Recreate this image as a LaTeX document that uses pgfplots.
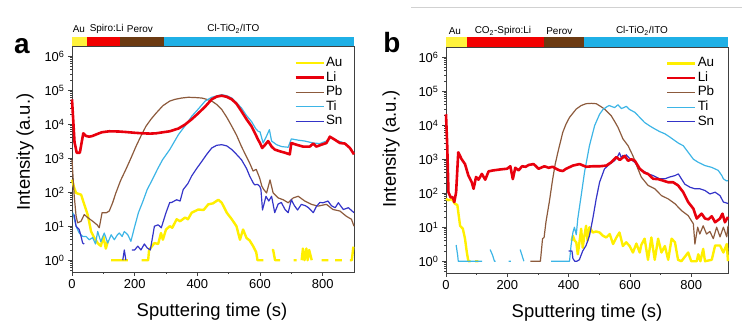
\documentclass[border=0pt]{standalone}
\usepackage{pgfplots}
\pgfplotsset{compat=1.18}
\usepackage{fontspec}
\setmainfont{Liberation Sans}
\definecolor{auc}{HTML}{FFEF00}
\definecolor{lic}{HTML}{E8000D}
\definecolor{pbc}{HTML}{8C5A3C}
\definecolor{tic}{HTML}{3DB5E6}
\definecolor{snc}{HTML}{3434C8}
\definecolor{barY}{HTML}{FFF23C}
\definecolor{barR}{HTML}{F20000}
\definecolor{barB}{HTML}{6B3A12}
\definecolor{barC}{HTML}{1FB0E6}
\tikzset{barlab/.style={font=\fontsize{10}{10}\selectfont, inner sep=0pt}}
\pgfplotsset{
  legend image code/.code={\draw[#1] (0bp,0bp) -- (28bp,0bp);},
}
\begin{document}
\begin{tikzpicture}
\path[use as bounding box] (0bp,0bp) rectangle (742bp,328bp);
\pgfplotsset{
  every axis/.append style={
  scale only axis, width=282bp, height=226bp,
  ymin=0.45, ymax=2e6, xmin=0,
  clip=false, unbounded coords=jump,
  axis line style={black!75, line width=0.8bp},
  tick style={black!75, line width=0.7bp},
  tick align=outside, xtick pos=left, ytick pos=left,
  major tick length=4bp, minor tick length=2bp,
  xtick={0,200,400,600,800}, xticklabels={0,200,400,600,800}, minor x tick num=1,
  ytick={1,10,100,1000,10000,100000,1000000},
  yticklabels={10\textsuperscript{0},10\textsuperscript{1},10\textsuperscript{2},10\textsuperscript{3},10\textsuperscript{4},10\textsuperscript{5},10\textsuperscript{6}},
  minor ytick={0.5,0.6,0.7,0.8,0.9,2,3,4,5,6,7,8,9,20,30,40,50,60,70,80,90,200,300,400,500,600,700,800,900,2000,3000,4000,5000,6000,7000,8000,9000,20000,30000,40000,50000,60000,70000,80000,90000,200000,300000,400000,500000,600000,700000,800000,900000},
  tick label style={font=\fontsize{13}{13}\selectfont},
  legend style={draw=none, fill=none, inner sep=0pt, font=\fontsize{13.5}{14}\selectfont, row sep=0.4bp, nodes={inner sep=1bp, text height=9.5bp, text depth=2.7bp}, anchor=north west},
  legend cell align=left,
  },
  every axis plot/.append style={line join=round},
}
% ---------------- panel a ----------------
\begin{semilogyaxis}[at={(72bp,56bp)}, anchor=south west, xmax=900,
  legend style={at={(0.788,0.957)}}]
\addlegendimage{auc, line width=2.6bp}\addlegendentry{Au}
\addlegendimage{lic, line width=2.6bp}\addlegendentry{Li}
\addlegendimage{pbc, line width=1.2bp}\addlegendentry{Pb}
\addlegendimage{tic, line width=1.2bp}\addlegendentry{Ti}
\addlegendimage{snc, line width=1.2bp}\addlegendentry{Sn}
% Au
\addplot[auc, line width=2.4bp, forget plot] coordinates {
(0,234)(7,135)(13,95)(20,90)(29,85)(39,44)(50,22)(61,7)(71,4.6)(82,3.2)(92,2.6)(100,5)(108,2.2)(115,3.8)
(120,nan)(125,1)(178,1)(200,nan)(222,1)(243,1)(246,2)(263,3.2)(275,3)(284,6.3)(290,4)(300,8)(312,10)(320,9)
(334,16)(345,14)(361,18)(370,16)(382,25)(403,31)(420,30)(435,44)(450,47)(467,60)(478,49)(494,25)(510,16)
(525,10)(536,4)(546,8)(557,4.5)(567,3.8)(578,2.6)(588,1.7)(592,1)(611,1)(620,nan)(638,2)(642,2)(648,1)(664,1)
(680,nan)(707,1)(717,1)(725,nan)(733,1)(737,2.2)(742,1)(748,2.2)(752,1)(757,2)(765,1)(780,nan)(797,1)(818,1)
(830,nan)(840,1)(861,1)(875,nan)(887,1)(893,1)(898,2.5)};
% Pb
\addplot[pbc, line width=1.2bp, forget plot] coordinates {
(0,900)(7,80)(13,20)(18,12.6)(29,14)(39,22)(50,18)(66,14)(80,11)(87,9)(96,25)(110,25)(119,28)(130,50)(140,95)
(155,220)(172,470)(188,1000)(204,2200)(220,4500)(236,8700)(252,14000)(268,21000)(290,35000)(312,48000)
(329,54000)(350,59000)(371,62000)(392,61000)(414,59000)(430,54000)(446,48000)(462,38000)(478,27000)
(494,16000)(510,8700)(525,4800)(541,2200)(557,1100)(567,720)(578,420)(588,470)(599,260)(606,150)(612,120)
(621,95)(632,230)(642,95)(658,68)(674,60)(690,49)(706,68)(722,76)(743,55)(764,44)(785,39)(812,44)(833,31)
(855,28)(876,19.5)(892,16)(900,10)};
% Ti
\addplot[tic, line width=1.2bp, forget plot] coordinates {
(3,25)(13,10)(23,6.3)(34,5)(45,5)(55,4)(66,4.6)(75,3)(82,7)(92,3.5)(103,6.3)(114,3.2)(125,5.6)(135,4)(145,5.6)
(151,6.3)(160,5)(167,7)(178,5.6)(188,3.6)(199,9)(212,25)(225,50)(240,120)(257,240)(273,480)(289,900)(312,1800)
(340,5000)(361,9000)(382,17000)(403,28000)(425,48000)(446,62000)(467,70000)(478,74000)(494,69000)(510,59000)
(525,43000)(541,30000)(557,18000)(573,12000)(586,7500)(594,6200)(600,6000)(610,2800)(621,4500)(630,6900)
(637,3200)(653,2500)(669,2200)(690,2100)(700,3700)(722,3400)(743,3200)(770,2800)(791,2700)(812,3200)
(828,4000)(845,3300)(860,3000)(876,2500)(900,1450)};
% Sn
\addplot[snc, line width=1.2bp, forget plot] coordinates {
(7,22)(13,10)(23,8)(29,5)(34,3.2)(39,3)(100,nan)(162,1)(167,2)(172,1)(180,nan)(191,2)(200,2)(210,2.6)(220,2)
(231,3)(240,2.3)(250,2)(263,10)(275,11)(285,9)(300,25)(312,50)(318,50)(334,60)(345,55)(355,120)(370,180)
(382,300)(398,500)(414,800)(430,1300)(446,2000)(462,2400)(478,2500)(494,2300)(510,1800)(525,1300)(541,900)
(557,500)(567,300)(578,190)(583,165)(592,170)(599,150)(603,120)(608,30)(619,76)(628,55)(637,76)(647,25)
(658,45)(668,50)(680,31)(690,25)(700,60)(710,40)(720,30)(732,44)(745,40)(755,35)(770,25)(780,38)(791,50)
(801,49)(817,55)(828,40)(840,35)(850,49)(866,31)(882,35)(900,25)};
% Li
\addplot[lic, line width=2.6bp, forget plot] coordinates {
(0,54000)(8,3000)(15,1450)(25,1450)(36,5400)(45,4500)(55,4300)(65,4500)(77,5000)(95,5800)(119,6200)(150,6100)
(172,5900)(200,5600)(225,5400)(250,5300)(268,5400)(290,5800)(312,6200)(340,7500)(361,9800)(382,14000)
(403,21000)(425,33000)(446,54000)(462,65000)(478,69000)(494,64000)(510,54000)(525,40000)(541,24000)
(557,14000)(573,8700)(586,5000)(594,3500)(600,2800)(607,2000)(615,2400)(626,3200)(637,2200)(647,1800)
(663,1600)(680,1450)(695,1300)(700,2800)(716,2500)(737,2200)(759,2200)(770,2700)(780,2200)(796,2500)
(812,2800)(823,4300)(839,3500)(855,2800)(871,2700)(887,2000)(900,1300)};
% layer bar
\fill[barY] (rel axis cs:0,1) rectangle (rel axis cs:0.0522,1.04);
\fill[barR] (rel axis cs:0.0522,1) rectangle (rel axis cs:0.170,1.04);
\fill[barB] (rel axis cs:0.170,1) rectangle (rel axis cs:0.327,1.04);
\fill[barC] (rel axis cs:0.327,1) rectangle (rel axis cs:1,1.04);
\node[barlab] at (rel axis cs:0.0244,1.075) {Au};
\node[barlab] at (rel axis cs:0.123,1.075) {Spiro:Li};
\node[barlab] at (rel axis cs:0.241,1.075) {Perov};
\node[barlab] at (rel axis cs:0.572,1.075) {Cl-TiO\textsubscript{2}/ITO};
\end{semilogyaxis}
% ---------------- panel b ----------------
\begin{semilogyaxis}[at={(446bp,55bp)}, anchor=south west, xmax=920,
  legend style={at={(0.78,0.96)}}]
\addlegendimage{auc, line width=2.6bp}\addlegendentry{Au}
\addlegendimage{lic, line width=2.6bp}\addlegendentry{Li}
\addlegendimage{pbc, line width=1.2bp}\addlegendentry{Pb}
\addlegendimage{tic, line width=1.2bp}\addlegendentry{Ti}
\addlegendimage{snc, line width=1.2bp}\addlegendentry{Sn}
% Au
\addplot[auc, line width=2.4bp, forget plot] coordinates {
(0,68)(8,62)(19,68)(29,49)(37,45)(46,11)(55,9)(62,4.6)(68,1.8)(73,1)(80,1)(88,nan)(95,1)(106,1)(200,nan)
(410,4)(414,5.6)(420,4)(425,3.6)(430,1.6)(436,4)(441,9)(446,2.5)(452,6)(457,11)(462,4)(468,10)(479,7)(490,7.5)
(501,7)(512,5.6)(523,5)(534,6.3)(545,3.2)(556,5)(566,7)(577,2.8)(588,3.6)(599,2.8)(610,1.8)(621,3.3)(632,1.8)
(637,3)(648,4.6)(659,1.1)(670,5)(681,1.1)(692,4.6)(703,1.8)(714,2.8)(725,1.1)(736,4.6)(747,3.6)(757,1.1)
(768,1)(790,1.8)(800,1)(818,1)(823,1.6)(830,1)(839,2.3)(845,1)(867,1.1)(878,2.9)(894,2.9)(905,1.8)(916,3.2)(920,1)};
% Pb
\addplot[pbc, line width=1.2bp, forget plot] coordinates {
(275,1)(308,1)(315,4.6)(320,5)(326,14)(337,55)(348,260)(356,700)(365,1600)(381,6200)(392,11000)(403,17000)
(425,30000)(441,38000)(457,43000)(474,44000)(490,43000)(504,36000)(517,30000)(528,24000)(539,19000)
(550,13000)(561,8700)(577,4000)(594,2500)(610,1250)(626,525)(637,300)(659,170)(681,135)(703,85)(725,68)
(747,49)(768,31)(790,22)(807,12.6)(812,3.2)(821,10)(828,6.3)(839,11)(850,6.3)(861,7.5)(872,4.6)(883,10)
(894,5.2)(905,10)(916,5.2)(920,11)};
% Ti
\addplot[tic, line width=1.2bp, forget plot] coordinates {
(33,3)(38,1.5)(40,1)(118,1)(130,nan)(144,2.2)(152,1.5)(158,1)(162,1)(180,nan)(204,1)(212,1)(230,nan)
(242,2.2)(250,1.3)(254,1)(300,nan)(343,1)(403,1)(408,2.9)(414,7)(419,10)(425,6)(430,18)(441,85)(452,420)
(468,2500)(485,9800)(501,21000)(512,29000)(523,34000)(532,38000)(539,36000)(550,33000)(561,40000)
(572,31000)(580,33000)(588,36000)(599,29000)(616,24000)(632,17000)(648,12000)(665,9500)(681,7800)
(697,6500)(714,5600)(730,4500)(747,3500)(760,2900)(774,2500)(790,1600)(807,1000)(823,810)(845,650)
(867,575)(888,470)(900,330)(905,265)(915,230)(920,235)};
% Sn
\addplot[snc, line width=1.2bp, forget plot] coordinates {
(400,2)(411,2)(414,1.2)(420,1)(427,1)(435,1.1)(446,2)(457,2.9)(468,5.6)(479,18)(490,68)(501,210)(517,520)
(534,720)(550,910)(560,1200)(566,1550)(572,1100)(577,1300)(582,1100)(588,1350)(599,1050)(616,810)(632,525)
(637,470)(648,430)(659,370)(676,330)(697,265)(714,265)(730,300)(747,330)(758,370)(768,265)(779,185)
(796,150)(812,135)(828,135)(845,120)(861,95)(878,107)(894,85)(905,55)(920,50)};
% Li
\addplot[lic, line width=2.6bp, forget plot] coordinates {
(0,21000)(4,2500)(8,107)(15,76)(22,76)(27,55)(33,107)(40,1600)(51,1000)(62,720)(73,330)(84,210)(90,135)
(98,300)(106,250)(117,370)(128,250)(139,440)(155,470)(177,500)(199,525)(210,620)(218,260)(226,560)(237,470)
(248,620)(260,600)(270,680)(286,720)(302,525)(321,620)(335,560)(348,600)(360,520)(370,470)(381,450)(392,525)
(414,650)(436,720)(457,600)(479,620)(501,620)(523,650)(539,810)(556,1150)(567,950)(583,1250)(594,900)
(605,1000)(616,900)(632,525)(648,400)(659,370)(676,265)(692,260)(708,235)(725,210)(741,210)(757,170)
(774,107)(790,55)(807,35)(818,18)(834,25)(845,18)(856,17)(867,21)(878,14)(894,18)(902,25)(910,14)(920,20)};
% layer bar
\fill[barY] (rel axis cs:0,1) rectangle (rel axis cs:0.0736,1.044);
\fill[barR] (rel axis cs:0.0736,1) rectangle (rel axis cs:0.348,1.044);
\fill[barB] (rel axis cs:0.348,1) rectangle (rel axis cs:0.489,1.044);
\fill[barC] (rel axis cs:0.489,1) rectangle (rel axis cs:1,1.044);
\node[barlab] at (rel axis cs:0.0315,1.071) {Au};
\node[barlab] at (rel axis cs:0.202,1.071) {CO\textsubscript{2}-Spiro:Li};
\node[barlab] at (rel axis cs:0.402,1.071) {Perov};
\node[barlab] at (rel axis cs:0.695,1.071) {Cl-TiO\textsubscript{2}/ITO};
\end{semilogyaxis}
% labels
\node[font=\fontsize{18.5}{19}\selectfont, rotate=90] at (25bp,176bp) {Intensity (a.u.)};
\node[font=\fontsize{18.5}{19}\selectfont, rotate=90] at (391bp,179bp) {Intensity (a.u.)};
\node[font=\fontsize{18.5}{19}\selectfont] at (212bp,16bp) {Sputtering time (s)};
\node[font=\fontsize{18.5}{19}\selectfont] at (587bp,15bp) {Sputtering time (s)};
\node[font=\fontsize{28}{28}\bfseries] at (22bp,282bp) {a};
\node[font=\fontsize{28}{28}\bfseries] at (392bp,285bp) {b};
\draw[black!18, line width=0.8bp] (411bp,320.5bp) -- (742bp,320.5bp);
\end{tikzpicture}
\end{document}
